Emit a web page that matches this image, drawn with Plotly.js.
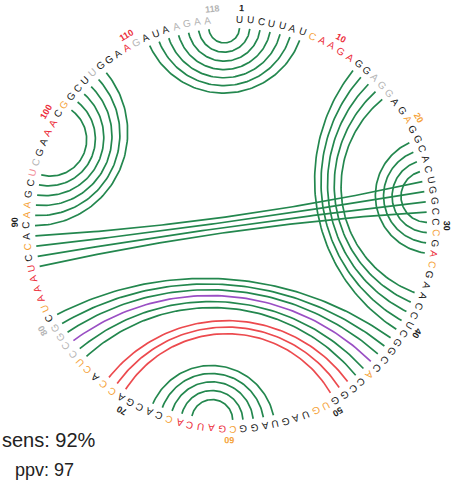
<!DOCTYPE html>
<html><head><meta charset="utf-8">
<script src="https://cdn.plot.ly/plotly-3.0.1.min.js"></script>
<style>html,body{margin:0;padding:0;background:#fff;overflow:hidden}#chart{width:458px;height:481px}</style>
</head><body><div id="chart"></div>
<script>
// ---- data ----
const sequence = ("UUCUUAUCAA"+"GAGGAGGAGA"+"GGCACUGGCC"+"CGACGAACCU"+"CGGCCACCGG"+
                  "UGUAGUAGGC"+"GAUCACCACG"+"ACCACUCCGG"+"CUAAAUCCAC"+"AAGCUCGAAA"+
                  "CGGCUUGGAA"+"GAUAAGAA").split("");
const reactivity = ("kkkkkkkorr"+"rrkkgggkko"+"kkkkkkkkkk"+"okrokkkkkk"+"kkkkkokkkk"+
                    "ookkkkkkko"+"rrrrrokkkk"+"kookoogggg"+"korrrrkokk"+"ookkpgkkrr"+
                    "kokkkgkkkr"+"gkkkgggg").split("");
const tickPositions = [1,10,20,30,40,50,60,70,80,90,100,110,118];
const pairsBoth = [[1,118],[2,117],[3,116],[4,115],[5,114],[6,113],[7,112],
                   [13,41],[14,40],[15,39],[16,38],[17,37],
                   [22,33],[23,32],[24,31],[25,30],
                   [26,89],[27,88],[28,87],[29,86],
                   [90,107],[91,106],[92,105],[93,104],[94,103],[95,102],
                   [42,81],[43,80],[44,79],[46,77],[47,76],
                   [56,68],[57,67],[58,66],[59,65],[60,64]];
const pairsPredictedOnly = [[45,78]];
const pairsAcceptedOnly = [[48,73],[49,72],[50,71]];
const statLabels = ["sens: 92%","ppv: 97"];

// ---- geometry / style ----
const CX = 231, CY = 224, R_ARC = 196, R_LET = 205, R_NUM = 216;
const DEG_PER_NT = 3, DEG_OFFSET = -0.5;
const shadeColor = {k:"#1a1a1a", r:"#ec2d3a", o:"#f5a238", g:"#b4b4b4", p:"#f28c96"};

function ang(k){ return (k*DEG_PER_NT + DEG_OFFSET); }
function ptA(deg, r){ const t = deg*Math.PI/180; return [CX + r*Math.sin(t), CY - r*Math.cos(t)]; }

function arcPoints(i, j){
  const a = ang(i)*Math.PI/180, b = ang(j)*Math.PI/180;
  const p1 = [Math.sin(a), -Math.cos(a)], p2 = [Math.sin(b), -Math.cos(b)];
  let d = Math.abs(b - a) % (2*Math.PI); if (d > Math.PI) d = 2*Math.PI - d;
  const half = d/2;
  const xs = [], ys = [];
  if (Math.cos(half) < 1e-3){
    xs.push(CX + R_ARC*p1[0], CX + R_ARC*p2[0]); ys.push(CY + R_ARC*p1[1], CY + R_ARC*p2[1]);
    return [xs, ys];
  }
  let mx = p1[0]+p2[0], my = p1[1]+p2[1]; const mn = Math.hypot(mx,my); mx/=mn; my/=mn;
  const dist = 1/Math.cos(half), rho = Math.tan(half);
  const cx = mx*dist, cy = my*dist;
  let f1 = Math.atan2(p1[1]-cy, p1[0]-cx), f2 = Math.atan2(p2[1]-cy, p2[0]-cx);
  let df = f2 - f1; while (df > Math.PI) df -= 2*Math.PI; while (df < -Math.PI) df += 2*Math.PI;
  const n = 80;
  for (let s=0; s<=n; s++){
    const f = f1 + df*s/n;
    xs.push(CX + R_ARC*(cx + rho*Math.cos(f)));
    ys.push(CY + R_ARC*(cy + rho*Math.sin(f)));
  }
  return [xs, ys];
}
function arcTrace(pairs, color){
  let X=[], Y=[];
  pairs.forEach(([i,j])=>{ const [xs,ys]=arcPoints(i,j); X=X.concat(xs,[null]); Y=Y.concat(ys,[null]); });
  return {x:X, y:Y, mode:"lines", type:"scatter", hoverinfo:"skip",
          line:{color:color, width:1.7}, showlegend:false};
}
const traces = [arcTrace(pairsBoth,"#23874e"), arcTrace(pairsPredictedOnly,"#9a4fc4"), arcTrace(pairsAcceptedOnly,"#ec4a4e")];

const annotations = [];
sequence.forEach((ch, idx)=>{
  const k = idx+1, [x,y] = ptA(ang(k), R_LET);
  annotations.push({x, y, xref:"x", yref:"y", text:ch, showarrow:false, textangle:ang(k),
    font:{family:"Liberation Sans, Arial, sans-serif", size:10, color:shadeColor[reactivity[idx]]},
    xanchor:"center", yanchor:"middle"});
});
tickPositions.forEach(k=>{
  const label = String(k);
  const shift = (label.length*5.2/2 - 1.5)/R_NUM*180/Math.PI;  // text starts at the nucleotide, runs clockwise
  const [x,y] = ptA(ang(k)+shift, R_NUM);
  annotations.push({x, y, xref:"x", yref:"y", text:"<b>"+label+"</b>", showarrow:false, textangle:ang(k),
    font:{family:"Liberation Sans, Arial, sans-serif", size:9, color:shadeColor[reactivity[k-1]]},
    xanchor:"center", yanchor:"middle"});
});
annotations.push({x:0, y:440, xref:"x", yref:"y", text:statLabels[0], showarrow:false, xanchor:"left", yanchor:"middle",
  font:{family:"Liberation Sans, Arial, sans-serif", size:20, color:"#222"}});
annotations.push({x:13, y:470, xref:"x", yref:"y", text:statLabels[1], showarrow:false, xanchor:"left", yanchor:"middle",
  font:{family:"Liberation Sans, Arial, sans-serif", size:18, color:"#222"}});

const layout = {width:458, height:481, margin:{l:0,r:0,t:0,b:0}, paper_bgcolor:"#fff", plot_bgcolor:"#fff",
  xaxis:{range:[0,458], visible:false, fixedrange:true},
  yaxis:{range:[481,0], visible:false, fixedrange:true},
  annotations, showlegend:false};
Plotly.newPlot("chart", traces, layout, {staticPlot:true, displayModeBar:false});
</script></body></html>
